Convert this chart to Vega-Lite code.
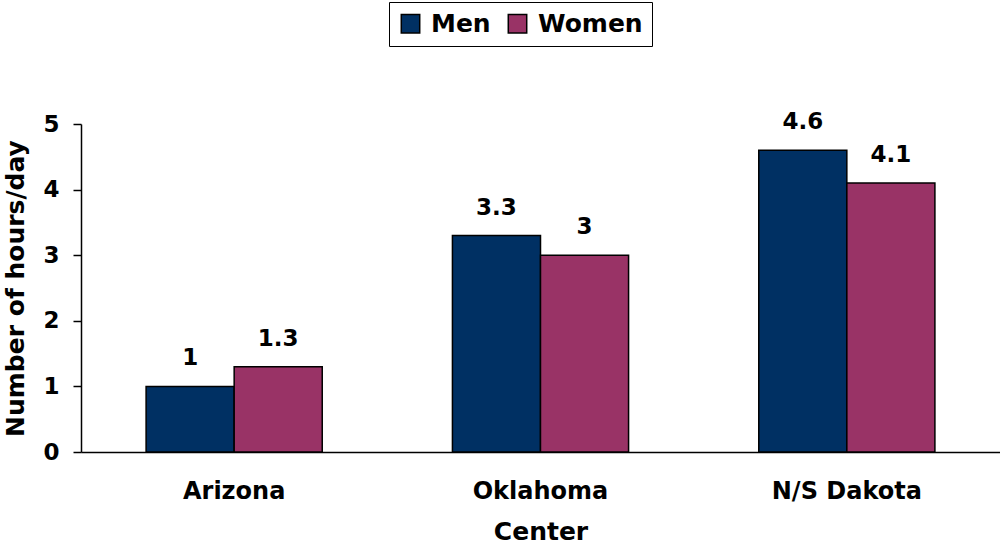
{
  "$schema": "https://vega.github.io/schema/vega-lite/v6.json",
  "width": 919,
  "height": 328,
  "autosize": {"type": "none"},
  "padding": {"left": 81, "top": 124, "right": 0, "bottom": 95},
  "background": "white",
  "config": {
    "view": {"stroke": null},
    "font": "DejaVu Sans",
    "axis": {"domainColor": "black", "tickColor": "black", "labelColor": "black", "titleColor": "black", "grid": false, "labelFontWeight": "bold", "titleFontWeight": "bold", "labelFontSize": 23, "titleFontSize": 25, "domainWidth": 1.5, "tickWidth": 1.5, "labelOverlap": false}
  },
  "data": {
    "values": [
      {"center": "Arizona", "sex": "Men", "hours": 1},
      {"center": "Arizona", "sex": "Women", "hours": 1.3},
      {"center": "Oklahoma", "sex": "Men", "hours": 3.3},
      {"center": "Oklahoma", "sex": "Women", "hours": 3},
      {"center": "N/S Dakota", "sex": "Men", "hours": 4.6},
      {"center": "N/S Dakota", "sex": "Women", "hours": 4.1}
    ]
  },
  "encoding": {
    "x": {"field": "center", "type": "nominal", "sort": ["Arizona", "Oklahoma", "N/S Dakota"],
      "scale": {"paddingInner": 0.425, "paddingOuter": 0.2125},
      "axis": {"title": "Center", "labelAngle": 0, "ticks": false, "labelPadding": 27, "titlePadding": 16, "labelFontSize": 24}},
    "xOffset": {"field": "sex", "type": "nominal", "sort": ["Men", "Women"]},
    "y": {"field": "hours", "type": "quantitative", "scale": {"domain": [0, 5]},
      "axis": {"title": "Number of hours/day", "values": [0,1,2,3,4,5], "tickSize": 8, "labelPadding": 14, "titlePadding": 14}}
  },
  "layer": [
    {
      "mark": {"type": "bar", "stroke": "black", "strokeWidth": 1.5},
      "encoding": {
        "color": {"field": "sex", "type": "nominal",
          "scale": {"domain": ["Men", "Women"], "range": ["#003063", "#993366"]},
          "legend": {"title": null, "orient": "none", "legendX": 308, "legendY": -122, "direction": "horizontal",
            "labelFontSize": 25, "labelFontWeight": "bold", "labelColor": "black", "symbolType": "square", "symbolSize": 340,
            "symbolStrokeColor": "black", "symbolStrokeWidth": 1.5, "strokeColor": "black", "padding": 9, "columnPadding": 14, "labelOffset": 8, "symbolOpacity": 1}}
      }
    },
    {
      "mark": {"type": "text", "baseline": "bottom", "dy": -16, "fontSize": 23, "fontWeight": "bold", "color": "black"},
      "encoding": {"text": {"field": "hours", "type": "quantitative"}}
    }
  ]
}
